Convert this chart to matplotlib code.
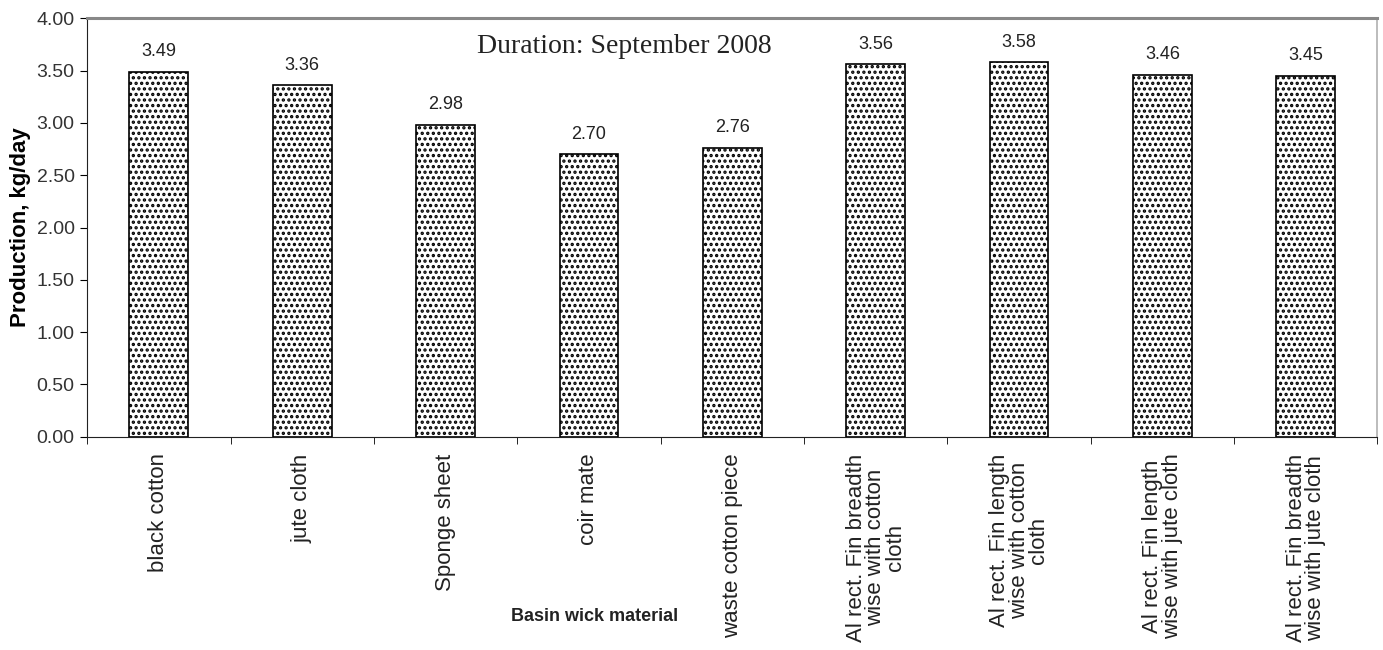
import numpy as np
import matplotlib.pyplot as plt

# Data
materials = [
    'black cotton',
    'jute cloth',
    'Sponge sheet',
    'coir mate',
    'waste cotton piece',
    'Al rect. Fin breadth\nwise with cotton\ncloth',
    'Al rect. Fin length\nwise with cotton\ncloth',
    'Al rect. Fin length\nwise with jute cloth',
    'Al rect. Fin breadth\nwise with jute cloth',
]
production = [3.49, 3.36, 2.98, 2.70, 2.76, 3.56, 3.58, 3.46, 3.45]
yticks = [0.0, 0.5, 1.0, 1.5, 2.0, 2.5, 3.0, 3.5, 4.0]

plt.rcParams['font.family'] = ['Liberation Sans', 'DejaVu Sans']
plt.rcParams['hatch.linewidth'] = 1.6

fig = plt.figure(figsize=(13.83, 6.5), dpi=100)
ax = fig.add_axes([0.063, 0.328, 0.933, 0.644])

x = np.arange(len(materials))
bars = ax.bar(x, production, width=0.41, color='white', edgecolor='black',
              linewidth=1.2, hatch='...')

for xi, v in zip(x, production):
    ax.text(xi, v + 0.11, f'{v:.2f}', ha='center', va='bottom',
            fontsize=13, color='#222222')

ax.set_xlim(-0.5, len(materials) - 0.5)
ax.set_ylim(0, 4.0)
ax.set_yticks(yticks)
ax.set_yticklabels([f'{t:.2f}' for t in yticks], fontsize=14, color='#333333')

# category labels centred, ticks on the boundaries
ax.set_xticks(x)
ax.set_xticklabels(materials, rotation=90, fontsize=16, va='top', ha='center',
                   multialignment='center', linespacing=0.9, color='#222222')
ax.tick_params(axis='x', which='major', length=0, pad=12)
ax.set_xticks(np.arange(len(materials) + 1) - 0.5, minor=True)
ax.tick_params(axis='x', which='minor', length=5, direction='out', color='black')
ax.tick_params(axis='y', length=5, direction='out', color='black', pad=4)

ax.spines['top'].set_color('#888888')
ax.spines['top'].set_linewidth(2.2)
ax.spines['right'].set_color('#b0b0b0')
ax.spines['right'].set_linewidth(1.2)
ax.spines['left'].set_color('#222222')
ax.spines['bottom'].set_color('#222222')

ax.text(0.416, 0.932, 'Duration: September 2008', transform=ax.transAxes,
        ha='center', va='center', fontsize=20, family='Liberation Serif',
        color='#222222')

ax.set_ylabel('Production, kg/day', fontsize=16, fontweight='bold',
              labelpad=4)
fig.text(0.43, 0.052, 'Basin wick material', ha='center', va='center',
         fontsize=13, fontweight='bold', color='#222222')

fig.savefig('out.png', dpi=100)
